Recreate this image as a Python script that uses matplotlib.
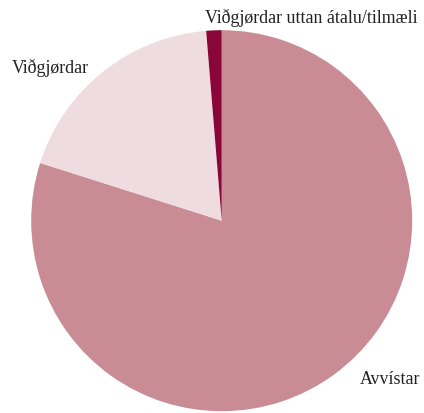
import matplotlib
matplotlib.use("Agg")
import matplotlib.pyplot as plt

categories = ["Avvístar", "Viðgjørdar", "Viðgjørdar uttan átalu/tilmæli"]
values = [79.9, 18.8, 1.3]
colors = ["#C98B94", "#EFDCE0", "#8A0538"]

W, H = 424, 414
fig = plt.figure(figsize=(W / 100, H / 100), dpi=100)
cx, cy, r = 221.7, 221.7, 190.5
ax = fig.add_axes([(cx - r) / W, (H - cy - r) / H, 2 * r / W, 2 * r / H])
ax.pie(values, colors=colors, startangle=90, counterclock=False, radius=1,
       wedgeprops=dict(linewidth=0))
ax.set_xlim(-1, 1)
ax.set_ylim(-1, 1)
ax.set_aspect("auto")
ax.axis("off")

font = dict(family="Liberation Serif", fontsize=12.9, color="#222222")
label_pos = {
    "Viðgjørdar uttan átalu/tilmæli": (205, 18, "left"),
    "Viðgjørdar": (12, 68, "left"),
    "Avvístar": (420, 380, "right"),
}
for cat in categories:
    x, y, ha = label_pos[cat]
    fig.text(x / W, 1 - y / H, cat, ha=ha, va="center", **font)

fig.savefig("out.png", dpi=100)
